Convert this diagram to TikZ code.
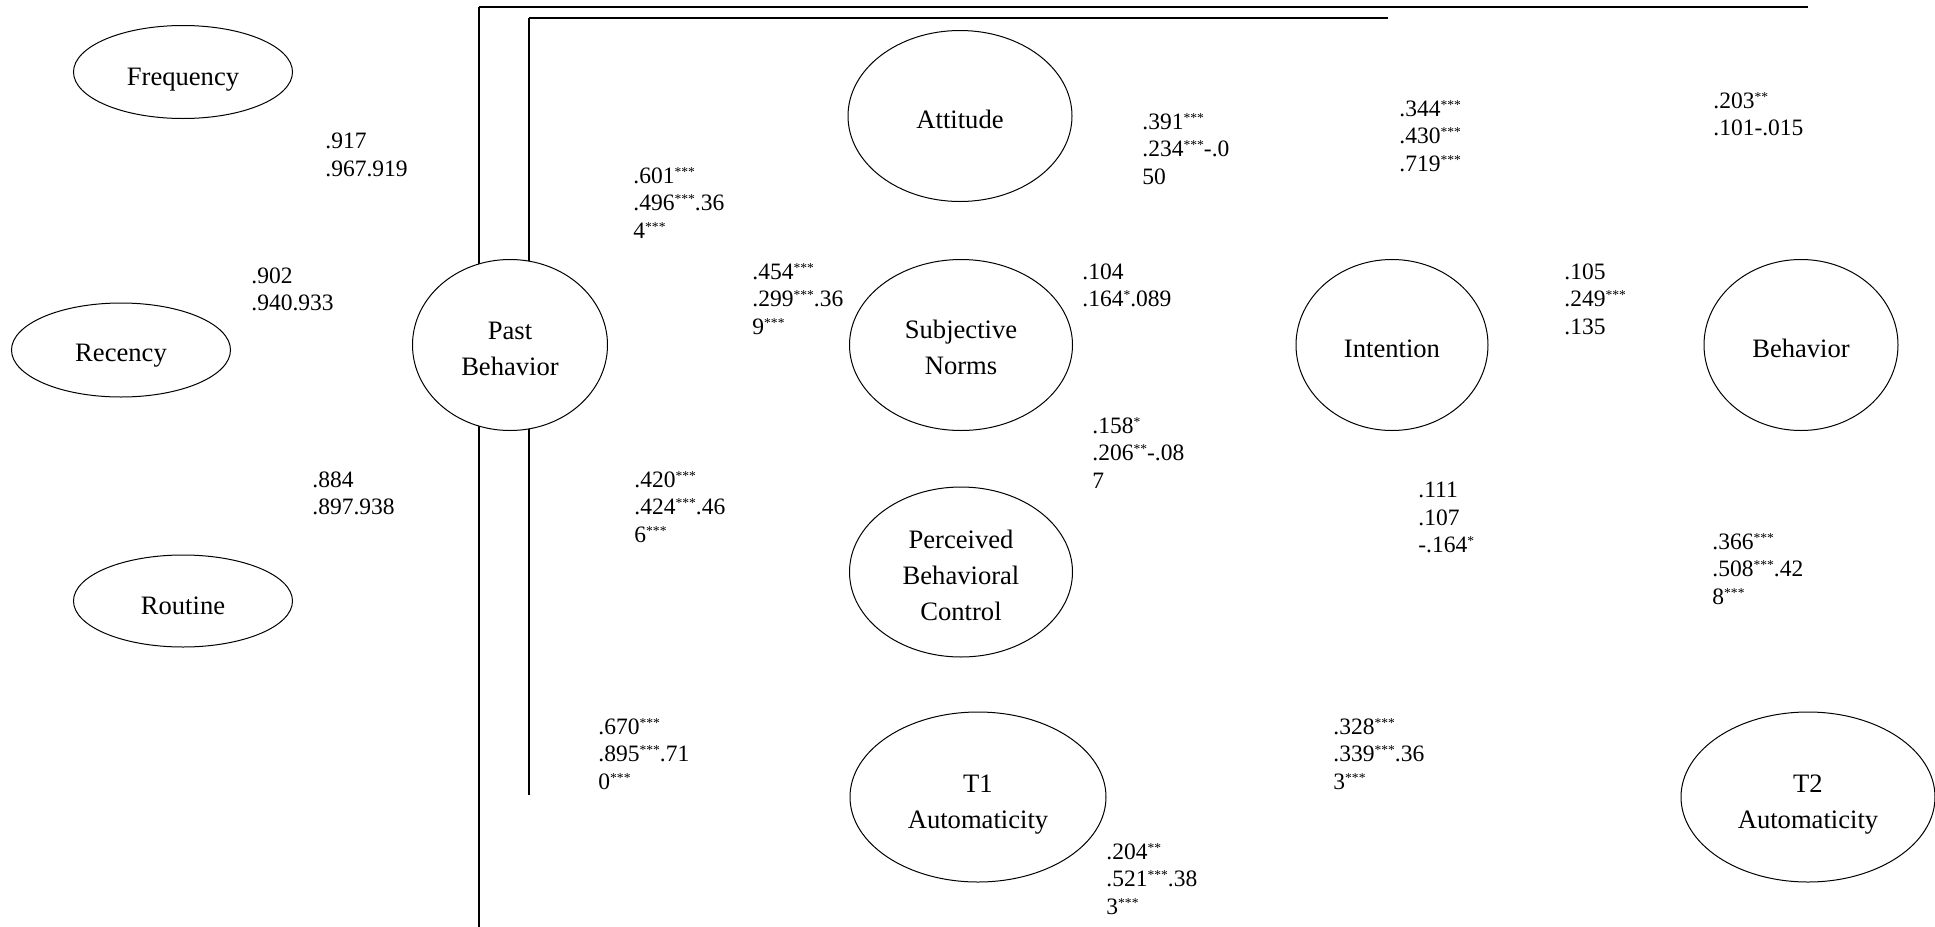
\documentclass[tikz,border=0pt]{standalone}
\usepackage{fontspec}
\setmainfont{Liberation Serif}
\usetikzlibrary{shapes.geometric}

\newcommand{\sig}[1]{\raisebox{0.3em}{\fontsize{6.8pt}{6.8pt}\selectfont #1}}
\newcommand{\drop}[1]{\rule{0pt}{#1}}

\tikzset{
  latent/.style 2 args={draw, ellipse, fill=white, line width=0.5pt, inner sep=0pt,
    minimum width=#1*0.5pt, minimum height=#2*0.5pt, align=center,
    font=\fontsize{13.3pt}{18pt}\selectfont, textdrop=13pt},
  textdrop/.style={execute at begin node={\rule{0pt}{#1}}},
  coef/.style={anchor=north west, inner sep=0pt, align=left,
    font=\fontsize{11.75pt}{13.75pt}\selectfont},
  hbar/.style={line width=1pt},
  vbar/.style={line width=0.65pt}
}

\begin{document}
\begin{tikzpicture}[x=0.5pt,y=-0.5pt]
\useasboundingbox (0,0) rectangle (1935,927);

\draw[vbar] (479,927) -- (479,7);
\draw[hbar] (479,7) -- (1808,7);
\draw[vbar] (529,795) -- (529,18);
\draw[hbar] (529,18) -- (1388,18);

\node[latent={219}{93}, textdrop=16.5pt] (frq) at (183,72) {Frequency};
\node[latent={219}{94}, textdrop=14pt] (rec) at (121,350) {Recency};
\node[latent={219}{92}, textdrop=14pt] (rtn) at (183,601) {Routine};
\node[latent={195}{171}] (pb) at (510,345) {\drop{13pt}Past\\Behavior};

\node[latent={224}{171}] (att) at (960,116) {Attitude};
\node[latent={223}{171}] (sn) at (961,345) {\drop{12pt}Subjective\\Norms};
\node[latent={223}{170}] (pbc) at (961,572) {\drop{13pt}Perceived\\Behavioral\\Control};
\node[latent={256}{170}] (tone) at (978,797) {\drop{16.5pt}T1\\Automaticity};

\node[latent={192}{171}, textdrop=12pt] (int) at (1392,345) {Intention};
\node[latent={194}{171}, textdrop=12pt] (beh) at (1801,345) {Behavior};
\node[latent={254}{170}] (ttwo) at (1808,797) {\drop{16.5pt}T2\\Automaticity};

\node[coef] (frqpb) at (325,133) {.917\\.967.919};
\node[coef] (recpb) at (251,267) {.902\\.940.933};
\node[coef] (rtnpb) at (312,471) {.884\\.897.938};

\node[coef] (pbatt) at (633,167) {.601\sig{***}\\.496\sig{***}.36\\4\sig{***}};
\node[coef] (pbsn) at (752,263) {.454\sig{***}\\.299\sig{***}.36\\9\sig{***}};
\node[coef] (pbpbc) at (634,471) {.420\sig{***}\\.424\sig{***}.46\\6\sig{***}};
\node[coef] (pbtone) at (598,718) {.670\sig{***}\\.895\sig{***}.71\\0\sig{***}};

\node[coef] (attint) at (1142,113) {.391\sig{***}\\.234\sig{***}-.0\\50};
\node[coef] (pbint) at (1399,100) {.344\sig{***}\\.430\sig{***}\\.719\sig{***}};
\node[coef] (pbbeh) at (1713,92) {.203\sig{**}\\.101-.015};
\node[coef] (snint) at (1082,263) {.104\\.164\sig{*}.089};
\node[coef] (intbeh) at (1564,263) {.105\\.249\sig{***}\\.135};
\node[coef] (pbcint) at (1092,417) {.158\sig{*}\\.206\sig{**}-.08\\7};
\node[coef] (pbcbeh) at (1418,482) {.111\\.107\\-.164\sig{*}};
\node[coef] (ttwobeh) at (1712,533) {.366\sig{***}\\.508\sig{***}.42\\8\sig{***}};
\node[coef] (tonettwo) at (1333,718) {.328\sig{***}\\.339\sig{***}.36\\3\sig{***}};
\node[coef] (toneint) at (1106,843) {.204\sig{**}\\.521\sig{***}.38\\3\sig{***}};

\end{tikzpicture}
\end{document}
